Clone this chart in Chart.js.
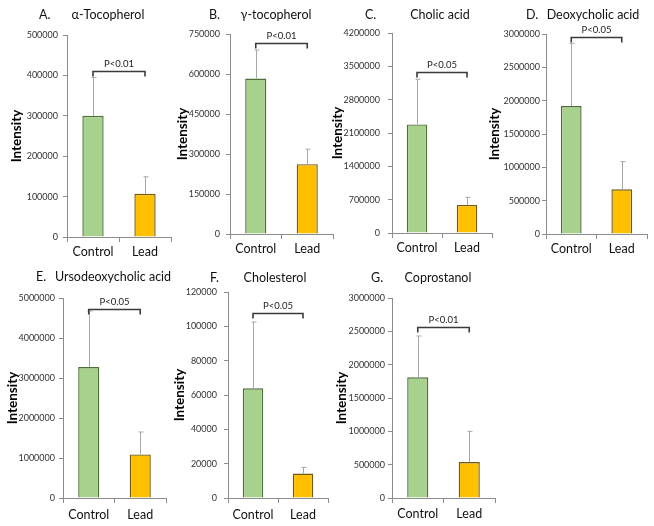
<!DOCTYPE html>
<html><head><meta charset="utf-8">
<script src="https://cdn.jsdelivr.net/npm/chart.js@4"></script>
<style>
body{margin:0;background:#fff;width:654px;height:526px;position:relative;overflow:hidden}
.p{position:absolute}
</style></head><body>
<script>
// ---- data ----
const groups = ['Control', 'Lead'];
const panelLetters = ['A.', 'B.', 'C.', 'D.', 'E.', 'F.', 'G.'];
const panelTitles = ['α-Tocopherol', 'γ-tocopherol', 'Cholic acid', 'Deoxycholic acid', 'Ursodeoxycholic acid', 'Cholesterol', 'Coprostanol'];
const controlMeans = [300000, 583000, 2280000, 1920000, 3275000, 63900, 1810000];
const controlSD    = [95000, 107000, 950000, 940000, 1400000, 38600, 620000];
const leadMeans    = [107000, 262000, 590000, 670000, 1090000, 14200, 540000];
const leadSD       = [42000, 56000, 160000, 415000, 560000, 3600, 460000];
const pLabels      = ['P<0.01', 'P<0.01', 'P<0.05', 'P<0.05', 'P<0.05', 'P<0.05', 'P<0.01'];
const bracketLevels = [410000, 716000, 3390000, 2960000, 4720000, 108000, 2570000];
const axisMax  = [500000, 750000, 4200000, 3000000, 5000000, 120000, 3000000];
const axisStep = [100000, 150000, 700000, 500000, 1000000, 20000, 500000];

// ---- layout (page pixels) ----
const EXTRA = 24;
const layoutBoxes = [
  {left: 5,   top: 0,   w: 168, h: 262, yw: 62, padTop: 35, xh: 25, lx: 39,  tx: 108, ty: 15, xpad: 2, tpad: 5},
  {left: 171, top: 0,   w: 164, h: 262, yw: 59, padTop: 34, xh: 28, lx: 209, tx: 276, ty: 15, xpad: 2, tpad: 6},
  {left: 326, top: 0,   w: 168, h: 262, yw: 66, padTop: 33, xh: 29, lx: 365, tx: 440, ty: 15, xpad: 2, tpad: 8},
  {left: 483, top: 0,   w: 166, h: 262, yw: 63, padTop: 34, xh: 28, lx: 526, tx: 593, ty: 15, xpad: 2, tpad: 2},
  {left: 1,   top: 262, w: 167, h: 264, yw: 62, padTop: 36, xh: 28, lx: 36,  tx: 113, ty: 277, xpad: 4, tpad: 4},
  {left: 168, top: 262, w: 162, h: 264, yw: 60, padTop: 30, xh: 28, lx: 210, tx: 275, ty: 278, xpad: 4, tpad: 7},
  {left: 330, top: 262, w: 167, h: 264, yw: 62, padTop: 36, xh: 28, lx: 371, tx: 438, ty: 278, xpad: 3, tpad: 3}
];

const FONT = 'Lato, "Liberation Sans", sans-serif';
const AXIS_COL = '#8c8c8c';

const extrasPlugin = {
  id: 'extras',
  afterDatasetsDraw(chart, args, opts) {
    const ctx = chart.ctx;
    const ys = chart.scales.y;
    const meta = chart.getDatasetMeta(0);
    ctx.save();
    ctx.strokeStyle = '#a6a6a6';
    ctx.lineWidth = 1;
    opts.sds.forEach((sd, i) => {
      const bar = meta.data[i];
      const x = Math.round(bar.x) + 0.5;
      const y0 = ys.getPixelForValue(opts.means[i]);
      const y1 = ys.getPixelForValue(opts.means[i] + sd);
      ctx.beginPath();
      ctx.moveTo(x, y0); ctx.lineTo(x, y1);
      ctx.moveTo(x - 2, y1); ctx.lineTo(x + 3, y1);
      ctx.stroke();
    });
    const yb = Math.round(ys.getPixelForValue(opts.bracket)) + 0.5;
    const xa = meta.data[0].x, xb = meta.data[1].x;
    ctx.strokeStyle = '#3a3a3a';
    ctx.lineWidth = 1.6;
    ctx.beginPath();
    ctx.moveTo(xa, yb + 5); ctx.lineTo(xa, yb); ctx.lineTo(xb, yb); ctx.lineTo(xb, yb + 5);
    ctx.stroke();
    ctx.fillStyle = '#222';
    ctx.font = '9.5px ' + FONT;
    ctx.textAlign = 'center';
    ctx.textBaseline = 'bottom';
    ctx.fillText(opts.p, (xa + xb) / 2, yb - 3);
    ctx.font = '12.5px ' + FONT;
    ctx.textBaseline = 'middle';
    ctx.fillStyle = '#111';
    ctx.textAlign = 'left';
    ctx.fillText(opts.letter, opts.lx, opts.ty);
    ctx.textAlign = 'center';
    ctx.fillText(opts.title, opts.tx, opts.ty);
    ctx.restore();
  }
};

layoutBoxes.forEach((b, i) => {
  const W = b.w + EXTRA;
  const cv = document.createElement('canvas');
  cv.className = 'p';
  cv.style.left = b.left + 'px';
  cv.style.top = b.top + 'px';
  cv.style.width = W + 'px';
  cv.style.height = b.h + 'px';
  cv.width = W; cv.height = b.h;
  document.body.appendChild(cv);
  new Chart(cv, {
    type: 'bar',
    data: {
      labels: groups,
      datasets: [{
        data: [controlMeans[i], leadMeans[i]],
        backgroundColor: ['#a9d18e', '#ffc000'],
        borderColor: ['#4f6f3a', '#6e5a1a'],
        borderWidth: 1.4,
        borderSkipped: 'bottom',
        categoryPercentage: 1,
        barPercentage: 0.41
      }]
    },
    options: {
      responsive: false,
      animation: false,
      devicePixelRatio: 1,
      layout: {padding: {top: b.padTop, left: 0, right: 2 + EXTRA, bottom: 0}},
      plugins: {
        legend: {display: false},
        tooltip: {enabled: false},
        extras: {
          means: [controlMeans[i], leadMeans[i]],
          sds: [controlSD[i], leadSD[i]],
          bracket: bracketLevels[i],
          p: pLabels[i],
          letter: panelLetters[i],
          title: panelTitles[i],
          lx: b.lx - b.left,
          tx: b.tx - b.left,
          ty: b.ty - b.top
        }
      },
      scales: {
        x: {
          grid: {display: true, drawOnChartArea: false, offset: true, tickLength: 5, color: AXIS_COL},
          border: {color: AXIS_COL, width: 1},
          ticks: {color: '#111', font: {size: 12.5, family: FONT}, padding: b.xpad},
          afterFit: s => { s.height = b.xh; }
        },
        y: {
          min: 0, max: axisMax[i],
          grid: {display: true, drawOnChartArea: false, tickLength: 4, color: AXIS_COL},
          border: {color: AXIS_COL, width: 1},
          ticks: {stepSize: axisStep[i], color: '#333', font: {size: 9, family: FONT}, padding: b.tpad,
                  callback: v => String(v)},
          title: {display: true, text: 'Intensity', color: '#000',
                  font: {size: 13.5, weight: 'bold', family: FONT}, padding: {top: 4, bottom: 0}},
          afterFit: s => { s.width = b.yw; }
        }
      }
    },
    plugins: [extrasPlugin]
  });
});
</script>
</body></html>
